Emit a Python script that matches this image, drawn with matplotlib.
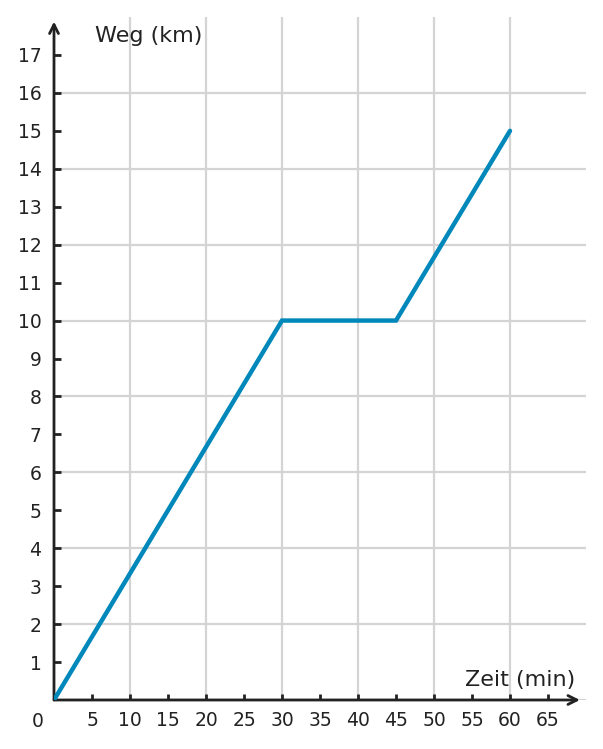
import matplotlib
matplotlib.use("Agg")
from matplotlib import pyplot as plt

# data
zeit_min = [0, 30, 45, 60]
weg_km = [0, 10, 10, 15]
x_ticks = [5, 10, 15, 20, 25, 30, 35, 40, 45, 50, 55, 60, 65]
y_ticks = list(range(1, 18))
x_grid = [10, 20, 30, 40, 50, 60]
y_grid = [0, 2, 4, 6, 8, 10, 12, 14, 16]

AXIS_COLOR = "#222222"
GRID_COLOR = "#d4d4d4"
LINE_COLOR = "#0088bb"

fig = plt.figure(figsize=(6.03, 7.49), dpi=100)
ax = fig.add_axes([54 / 603, 49 / 749, 532 / 603, 683 / 749])
ax.set_xlim(0, 70)
ax.set_ylim(0, 18)

for s in ax.spines.values():
    s.set_visible(False)

for gx in x_grid:
    ax.axvline(gx, color=GRID_COLOR, lw=1.6, zorder=0)
for gy in y_grid:
    ax.axhline(gy, color=GRID_COLOR, lw=1.6, zorder=0)

ax.plot(zeit_min, weg_km, color=LINE_COLOR, lw=3.2, solid_capstyle="round",
        solid_joinstyle="miter", zorder=3)

# axes with arrows
arrow = dict(arrowstyle="->", color=AXIS_COLOR, lw=2.0, mutation_scale=16,
             shrinkA=0, shrinkB=0)
ax.annotate("", xy=(69.2, 0), xytext=(0, 0), arrowprops=arrow,
            annotation_clip=False, zorder=2)
ax.annotate("", xy=(0, 17.88), xytext=(0, 0), arrowprops=arrow,
            annotation_clip=False, zorder=2)

ax.set_xticks(x_ticks)
ax.set_yticks(y_ticks)
ax.tick_params(axis="x", direction="in", length=4, width=2, color=AXIS_COLOR,
               labelsize=13.5, labelcolor=AXIS_COLOR, pad=8)
ax.tick_params(axis="y", direction="in", length=5, width=2, color=AXIS_COLOR,
               labelsize=13.5, labelcolor=AXIS_COLOR, pad=9)

ax.text(-2.2, -0.31, "0", ha="center", va="top", fontsize=13.5,
        color=AXIS_COLOR)
ax.text(5.4, 17.5, "Weg (km)", ha="left", va="center", fontsize=16,
        color=AXIS_COLOR)
ax.text(68.55, 0.53, "Zeit (min)", ha="right", va="center", fontsize=16,
        color=AXIS_COLOR)

fig.savefig("out.png", dpi=100)
